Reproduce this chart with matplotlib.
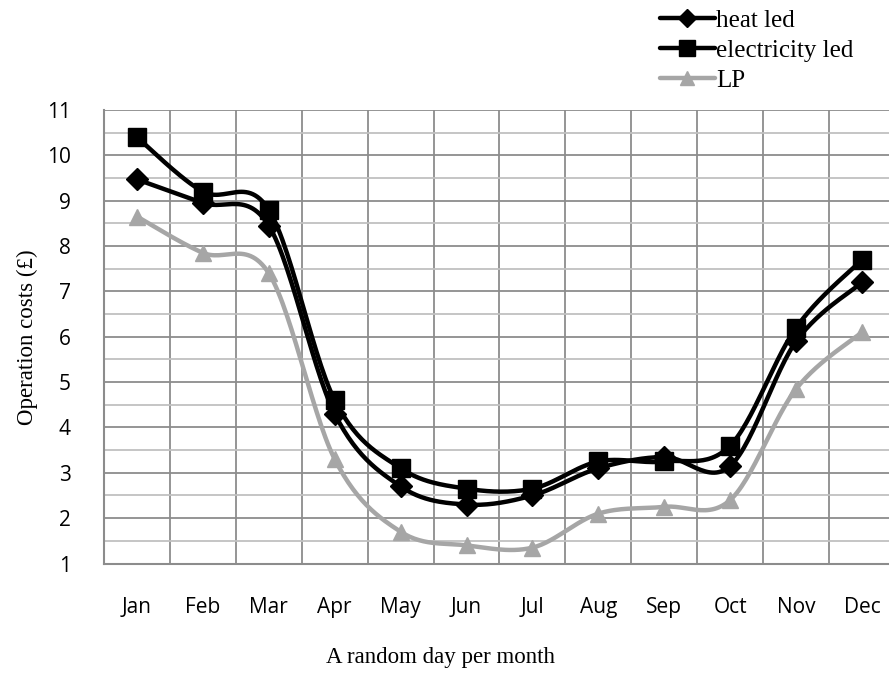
import numpy as np
import matplotlib
matplotlib.use("Agg")
from matplotlib import pyplot as plt
from matplotlib.ticker import MultipleLocator

months = ["Jan", "Feb", "Mar", "Apr", "May", "Jun",
          "Jul", "Aug", "Sep", "Oct", "Nov", "Dec"]
heat_led = [9.47, 8.95, 8.45, 4.3, 2.7, 2.3, 2.5, 3.1, 3.35, 3.15, 5.9, 7.2]
electricity_led = [10.4, 9.2, 8.8, 4.6, 3.1, 2.65, 2.65, 3.25, 3.25, 3.6, 6.2, 7.7]
lp = [8.65, 7.85, 7.4, 3.3, 1.7, 1.4, 1.35, 2.1, 2.25, 2.4, 4.85, 6.1]


def smooth(x, y, n=30):
    # Excel-style smoothed line: cubic bezier with catmull-rom control points
    x = np.asarray(x, float)
    y = np.asarray(y, float)
    px, py = [], []
    t = np.linspace(0, 1, n)
    for i in range(len(x) - 1):
        i0 = max(i - 1, 0)
        i3 = min(i + 2, len(x) - 1)
        c1x = x[i] + (x[i + 1] - x[i0]) / 6
        c1y = y[i] + (y[i + 1] - y[i0]) / 6
        c2x = x[i + 1] - (x[i3] - x[i]) / 6
        c2y = y[i + 1] - (y[i3] - y[i]) / 6
        bx = ((1 - t) ** 3 * x[i] + 3 * (1 - t) ** 2 * t * c1x
              + 3 * (1 - t) * t ** 2 * c2x + t ** 3 * x[i + 1])
        by = ((1 - t) ** 3 * y[i] + 3 * (1 - t) ** 2 * t * c1y
              + 3 * (1 - t) * t ** 2 * c2y + t ** 3 * y[i + 1])
        px.extend(bx)
        py.extend(by)
    return px, py


fig = plt.figure(figsize=(8.89, 6.75), dpi=100)
# plot area runs a bit past the right edge, like the source image
ax = fig.add_axes([104 / 889, (675 - 563.5) / 675, 791 / 889, 453.5 / 675])

xs = np.arange(len(months))
series = [
    (heat_led, "heat led", "D", "black", 11),
    (electricity_led, "electricity led", "s", "black", 13),
    (lp, "LP", "^", "#a6a6a6", 12),
]
handles = []
for ys, name, mk, col, ms in series:
    sx, sy = smooth(xs, ys)
    ax.plot(sx, sy, color=col, lw=3.2, solid_capstyle="round", zorder=3)
    ax.plot(xs, ys, ls="none", marker=mk, ms=ms, color=col, zorder=4)
    h, = ax.plot([], [], color=col, lw=3.2, marker=mk, ms=ms * 0.85,
                 solid_capstyle="round", label=name)
    handles.append(h)

ax.set_xlim(-0.5, 11.5)
ax.set_ylim(1, 11)
ax.yaxis.set_major_locator(MultipleLocator(1))
ax.yaxis.set_minor_locator(MultipleLocator(0.5))
ax.set_xticks(xs)
ax.set_xticklabels(months)
ax.set_xticks(np.arange(-0.5, 12, 1), minor=True)

ax.grid(False)
ax.yaxis.grid(True, which="major", color="#8c8c8c", lw=1.3)
ax.yaxis.grid(True, which="minor", color="#c0c0c0", lw=1.3)
ax.xaxis.grid(True, which="minor", color="#8c8c8c", lw=1.3)
ax.set_axisbelow(True)
for s in ax.spines.values():
    s.set_visible(False)
ax.spines["bottom"].set_visible(True)
ax.spines["bottom"].set_color("#8c8c8c")
ax.spines["bottom"].set_linewidth(1.5)
ax.spines["left"].set_visible(True)
ax.spines["left"].set_color("#8c8c8c")
ax.spines["left"].set_linewidth(1.5)

ax.tick_params(which="both", length=0)
ax.tick_params(axis="x", pad=24, labelsize=15)
ax.tick_params(axis="y", pad=24, labelsize=15)
for lab in ax.get_xticklabels() + ax.get_yticklabels():
    lab.set_family(["Open Sans", "DejaVu Sans"])

serif = "Liberation Serif"
fig.text(27 / 889, 1 - 337 / 675, "Operation costs (£)", rotation=90,
         ha="center", va="center", family=serif, fontsize=16.5)
fig.text(440 / 889, 1 - 657 / 675, "A random day per month",
         ha="center", va="center", family=serif, fontsize=16.5)

fig.legend(handles=handles, loc="upper left",
           bbox_to_anchor=(647 / 889, 1 + 3 / 675), frameon=False,
           prop={"family": serif, "size": 18}, handlelength=2.2,
           handletextpad=0.05, labelspacing=0.3, borderpad=0)

fig.savefig("out.png", dpi=100)
